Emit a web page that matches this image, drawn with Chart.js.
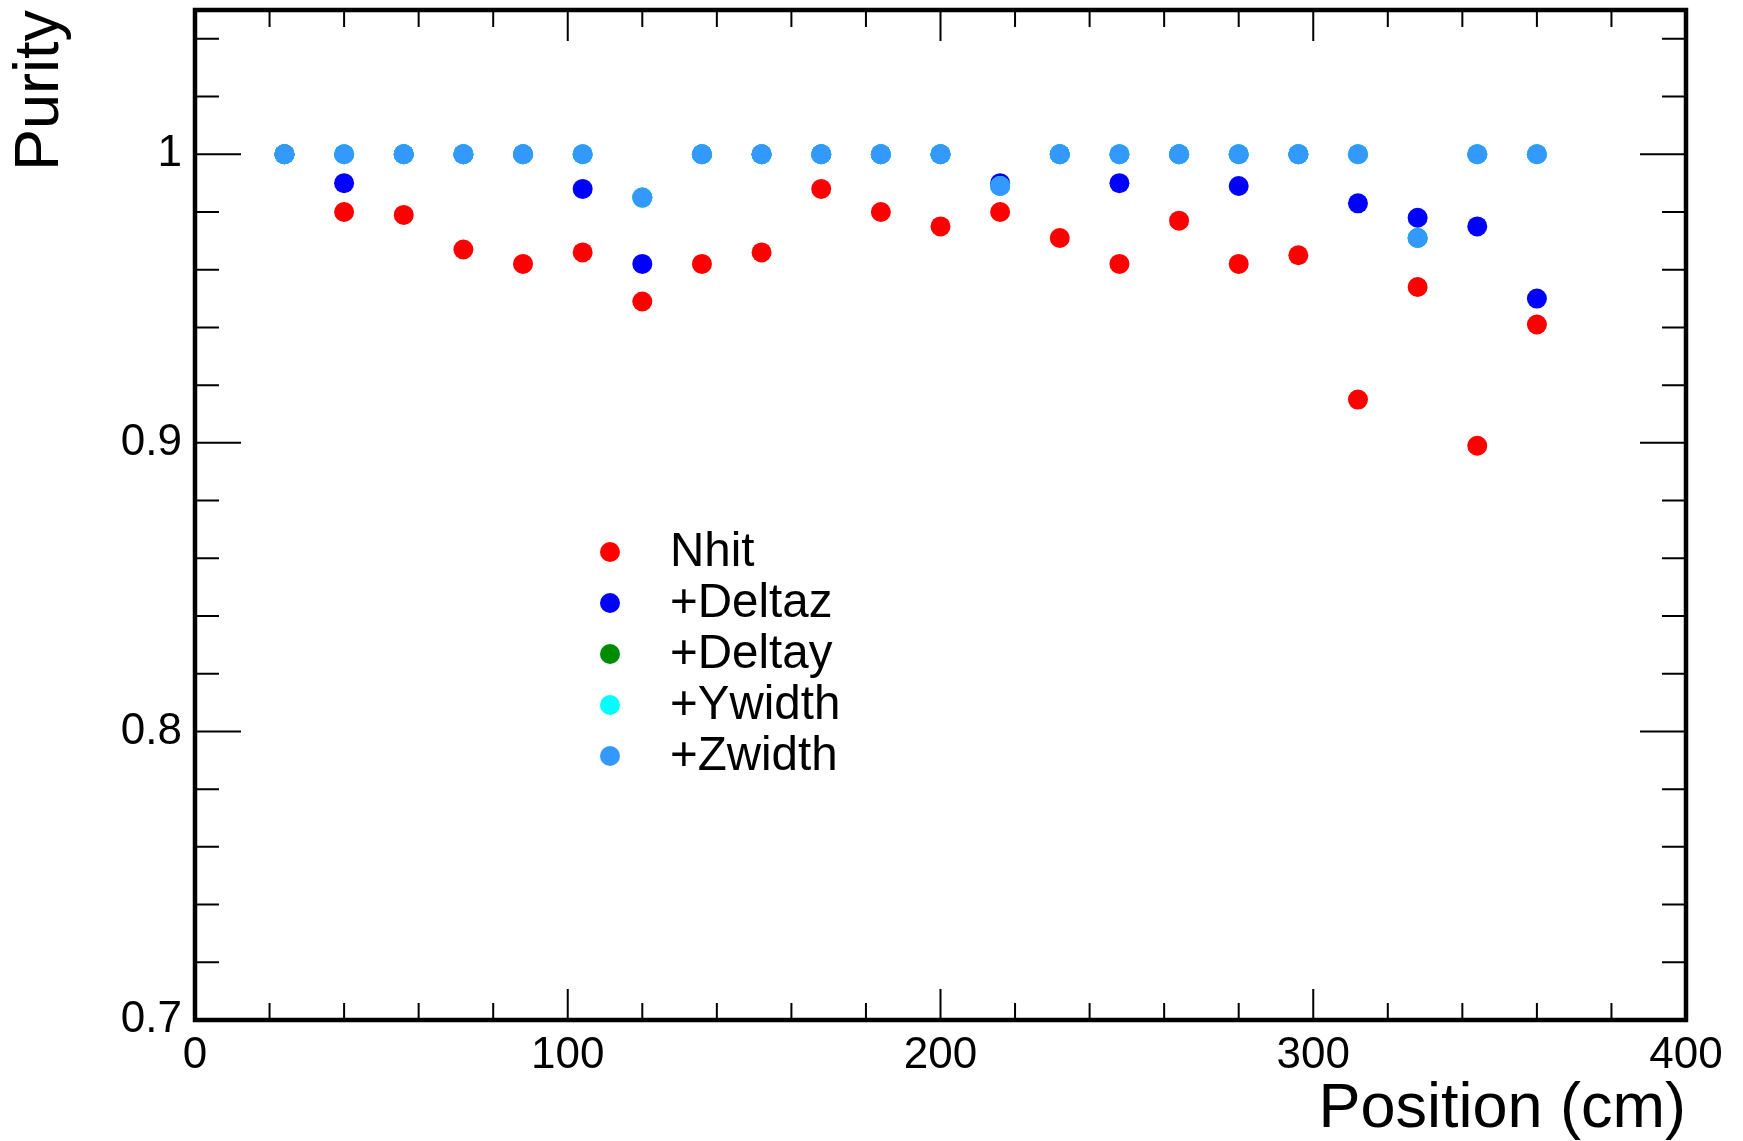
<!DOCTYPE html>
<html>
<head>
<meta charset="utf-8">
<script src="https://cdn.jsdelivr.net/npm/chart.js@4.4.1/dist/chart.umd.min.js"></script>
<style>
  body { margin: 0; background: #fff; }
</style>
</head>
<body>
<canvas id="purityChart" width="1743" height="1141"></canvas>
<script>
// positions along the detector (cm)
const positions = [24, 40, 56, 72, 88, 104, 120, 136, 152, 168, 184, 200, 216, 232, 248, 264, 280, 296, 312, 328, 344, 360];

// purity after each added cut
const nhit   = [1.000, 0.980, 0.979, 0.967, 0.962, 0.966, 0.949, 0.962, 0.966, 0.988, 0.980, 0.975, 0.980, 0.971, 0.962, 0.977, 0.962, 0.965, 0.915, 0.954, 0.899, 0.941];
const deltaz = [1.000, 0.990, 1.000, 1.000, 1.000, 0.988, 0.962, 1.000, 1.000, 1.000, 1.000, 1.000, 0.990, 1.000, 0.990, 1.000, 0.989, 1.000, 0.983, 0.978, 0.975, 0.950];
const deltay = [1.000, 1.000, 1.000, 1.000, 1.000, 1.000, 0.985, 1.000, 1.000, 1.000, 1.000, 1.000, 0.989, 1.000, 1.000, 1.000, 1.000, 1.000, 1.000, 0.971, 1.000, 1.000];
const ywidth = [1.000, 1.000, 1.000, 1.000, 1.000, 1.000, 0.985, 1.000, 1.000, 1.000, 1.000, 1.000, 0.989, 1.000, 1.000, 1.000, 1.000, 1.000, 1.000, 0.971, 1.000, 1.000];
const zwidth = [1.000, 1.000, 1.000, 1.000, 1.000, 1.000, 0.985, 1.000, 1.000, 1.000, 1.000, 1.000, 0.989, 1.000, 1.000, 1.000, 1.000, 1.000, 1.000, 0.971, 1.000, 1.000];

const seriesNames  = ['Nhit', '+Deltaz', '+Deltay', '+Ywidth', '+Zwidth'];
const seriesColors = ['#ff0000', '#0000ff', '#008c00', '#00ffff', '#3399ff'];
const seriesValues = [nhit, deltaz, deltay, ywidth, zwidth];

const yLabelTicks = [0.7, 0.8, 0.9, 1.0];
const xLabelTicks = [0, 100, 200, 300, 400];

const FONT = 'Liberation Sans, Arial, Helvetica, sans-serif';

const datasets = seriesNames.map((name, i) => ({
  label: name,
  data: positions.map((x, j) => ({ x: x, y: seriesValues[i][j] })),
  backgroundColor: seriesColors[i],
  borderColor: seriesColors[i],
  borderWidth: 0,
  pointRadius: 10,
  pointHoverRadius: 10,
  order: seriesNames.length - i   // last series ends up on top
}));

// ROOT style frame with inward ticks on all four sides + legend box
const rootFrame = {
  id: 'rootFrame',
  beforeDatasetsDraw(chart) {
    const { ctx, chartArea: a, scales } = chart;
    const xs = scales.x, ys = scales.y;
    ctx.save();
    ctx.strokeStyle = '#000';
    ctx.lineWidth = 2;
    ctx.beginPath();
    for (let v = 0; v <= 400; v += 20) {
      const px = xs.getPixelForValue(v);
      const len = v % 100 === 0 ? 31 : 17;
      ctx.moveTo(px, a.bottom); ctx.lineTo(px, a.bottom - len);
      ctx.moveTo(px, a.top); ctx.lineTo(px, a.top + len);
    }
    for (let k = 35; k <= 52; k++) {
      const py = ys.getPixelForValue(k * 0.02);
      const len = k % 5 === 0 ? 46 : 24;
      ctx.moveTo(a.left, py); ctx.lineTo(a.left + len, py);
      ctx.moveTo(a.right, py); ctx.lineTo(a.right - len, py);
    }
    ctx.stroke();
    ctx.lineWidth = 4.5;
    ctx.strokeRect(a.left, a.top, a.right - a.left, a.bottom - a.top);
    ctx.restore();
  },
  afterDraw(chart) {
    const { ctx } = chart;
    ctx.save();
    ctx.font = '47.5px ' + FONT;
    ctx.textBaseline = 'middle';
    ctx.textAlign = 'left';
    chart.data.datasets.forEach((ds, i) => {
      const y = 552 + i * 51;
      ctx.fillStyle = ds.backgroundColor;
      ctx.beginPath();
      ctx.arc(610, y, 10, 0, Math.PI * 2);
      ctx.fill();
      ctx.fillStyle = '#000';
      ctx.fillText(ds.label, 670, y + 1);
    });
    ctx.restore();
  }
};

function zeroPadding(scale) {
  scale.paddingTop = 0; scale.paddingBottom = 0;
  scale.paddingLeft = 0; scale.paddingRight = 0;
}

new Chart(document.getElementById('purityChart'), {
  type: 'scatter',
  data: { datasets },
  options: {
    responsive: false,
    animation: false,
    events: [],
    layout: { padding: { top: 10, right: 57, left: 0, bottom: 0 } },
    plugins: { legend: { display: false }, tooltip: { enabled: false } },
    scales: {
      x: {
        type: 'linear', min: 0, max: 400,
        grid: { display: false, drawTicks: false },
        border: { display: false },
        afterBuildTicks: (s) => { s.ticks = xLabelTicks.map(v => ({ value: v })); },
        afterFit: (s) => { s.height = 121; zeroPadding(s); },
        ticks: {
          autoSkip: false, maxRotation: 0, padding: 9, color: '#000',
          font: { family: FONT, size: 44 },
          callback: (v) => String(v)
        },
        title: {
          display: true, text: 'Position (cm)', align: 'end', color: '#000',
          font: { family: FONT, size: 63, lineHeight: 1 },
          padding: { top: 0, bottom: 0 }
        }
      },
      y: {
        type: 'linear', min: 0.7, max: 1.05,
        grid: { display: false, drawTicks: false },
        border: { display: false },
        afterBuildTicks: (s) => { s.ticks = yLabelTicks.map(v => ({ value: v })); },
        afterFit: (s) => { s.width = 195; zeroPadding(s); },
        ticks: {
          autoSkip: false, padding: 13, color: '#000',
          font: { family: FONT, size: 44 },
          callback: (v) => (v === 1 ? '1' : v.toFixed(1))
        },
        title: {
          display: true, text: 'Purity', align: 'end', color: '#000',
          font: { family: FONT, size: 63, lineHeight: 1 },
          padding: { top: 9, bottom: 0 }
        }
      }
    }
  },
  plugins: [rootFrame]
});
</script>
</body>
</html>
